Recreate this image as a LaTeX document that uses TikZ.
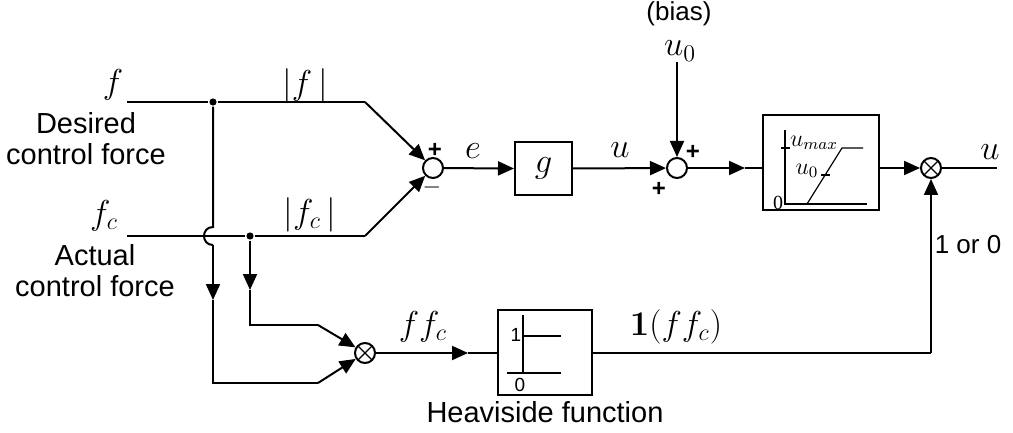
\documentclass[tikz,border=0pt]{standalone}
\usepackage[no-math]{fontspec}
\setmainfont{Liberation Sans}
\newfontfamily\seriffont{Liberation Serif}
\usetikzlibrary{arrows.meta}
\begin{document}
\begin{tikzpicture}[x=0.5pt,y=-0.5pt, line width=1pt,
  >={Triangle[length=8pt,width=7pt]},
  blk/.style={draw, inner sep=0pt},
  sumc/.style={circle, draw, minimum size=10pt, inner sep=0pt},
  mulc/.style={sumc, path picture={\draw[line width=0.6pt]
      (path picture bounding box.north west) -- (path picture bounding box.south east)
      (path picture bounding box.north east) -- (path picture bounding box.south west);}},
  txt/.style={font=\fontsize{14.5}{15.5}\selectfont, inner sep=0pt, align=center},
  stxt/.style={font=\fontsize{13}{15}\selectfont, inner sep=0pt},
  mth/.style={font=\fontsize{17}{20}\selectfont, inner sep=0pt},
  sgn/.style={font=\fontsize{12}{14}\selectfont\bfseries, inner sep=0pt},
  inner/.style={line width=0.6pt},
  dot/.style={circle, fill, inner sep=0pt, minimum size=3.6pt}]
\useasboundingbox (0,0) rectangle (1013,433);

% main nodes
\node[sumc] (s1) at (433,168) {};
\node[blk, minimum width=28.5pt, minimum height=26.5pt] (g) at (543.5,168.5) {};
\node[mth] at (g) {$g$};
\node[sumc] (s2) at (677,168) {};
\node[blk, minimum width=58pt, minimum height=47.5pt] (sat) at (821,162.5) {};
\node[mulc] (m1) at (931,168) {};
\node[mulc] (m2) at (365,353) {};
\node[blk, minimum width=47pt, minimum height=42.5pt] (hv) at (545,352.5) {};

% coordinates
\coordinate (fin) at (127,102);
\node[dot] (d1) at (213,102) {};
\coordinate (c1) at (365,102);
\coordinate (fcin) at (127,236);
\node[dot] (d2) at (250,236) {};
\coordinate (c2) at (365,236);
\coordinate (u0top) at (677,62);
\coordinate (outend) at (997,168);
\coordinate (a1) at (745,168);
\coordinate (a2) at (468,353);
\coordinate (j1) at (213,227);
\coordinate (j2) at (213,245);
\coordinate (v1) at (213,300);
\coordinate (v1b) at (213,383);
\coordinate (c3) at (318,383);
\coordinate (v2) at (250,290);
\coordinate (v2b) at (250,325);
\coordinate (c4) at (318,325);
\coordinate (br) at (931,353);

% connectors
\draw (fin) -- (d1) -- (c1);
\draw[->] (c1) -- (s1);
\draw (fcin) -- (d2) -- (c2);
\draw[->] (c2) -- (s1);
\draw[->] (s1) -- (g.west);
\draw[->] (g.east) -- (s2);
\draw[->] (u0top) -- (s2);
\draw[->] (s2) -- (a1);
\draw (a1) -- (sat.west |- a1);
\draw[->] (sat.east |- m1) -- (m1);
\draw (m1) -- (outend);
\draw (d1) -- (j1) .. controls (201,227) and (201,245) .. (j2);
\draw[->] (j2) -- (v1);
\draw (v1) -- (v1b) -- (c3);
\draw[->] (c3) -- (m2);
\draw[->] (d2) -- (v2);
\draw (v2) -- (v2b) -- (c4);
\draw[->] (c4) -- (m2);
\draw[->] (m2) -- (a2);
\draw (a2) -- (hv.west |- a2);
\draw (hv.east |- a2) -- (br);
\draw[->] (br) -- (m1);

% saturation internals
\draw[inner] (785,130) -- (785,204) -- (867,204);
\draw[inner] (807,204) -- (842,148) -- (863,148);
\draw[inner] (781,148) -- (790,148);
\draw[inner] (821,175) -- (830,175);
\node[font=\fontsize{12}{14}\selectfont, inner sep=0pt, anchor=west] at (789,143) {$u_{max}$};
\node[font=\fontsize{12}{14}\selectfont, inner sep=0pt] at (807,171) {$u_0$};
\node[font=\fontsize{10}{12}\selectfont\seriffont, inner sep=0pt] at (778,203) {0};

% heaviside internals
\draw[inner] (523,315) -- (523,373);
\draw[inner] (523,336) -- (561,336);
\draw[inner] (507,373) -- (561,373);
\node[font=\fontsize{9.5}{11}\selectfont, inner sep=0pt] at (516,335) {1};
\node[font=\fontsize{9.5}{11}\selectfont, inner sep=0pt] at (520,385) {0};

% labels
\node[mth] at (113,85) {$f$};
\node[txt] at (86,139) {Desired\\control force};
\node[mth] at (104,216) {$f_c$};
\node[txt] at (95,271) {Actual\\control force};
\node[mth] at (305,86) {$|f\,|$};
\node[mth] at (310,215) {$|f_c\,|$};
\node[sgn] at (435,150) {+};
\node[sgn] at (432,187) {$-$};
\node[mth] at (473,151) {$e$};
\node[mth] at (620,150) {$u$};
\node[sgn] at (693,152) {+};
\node[sgn] at (659,189) {+};
\node[stxt] at (679,14) {(bias)};
\node[mth] at (680,51) {$u_0$};
\node[mth] at (990,152) {$u$};
\node[stxt] at (968,245) {1 or 0};
\node[mth] at (423,327) {$ff_c$};
\node[mth] at (676,327) {$\mathbf{1}(ff_c)$};
\node[txt] at (545,412) {Heaviside function};
\end{tikzpicture}
\end{document}
